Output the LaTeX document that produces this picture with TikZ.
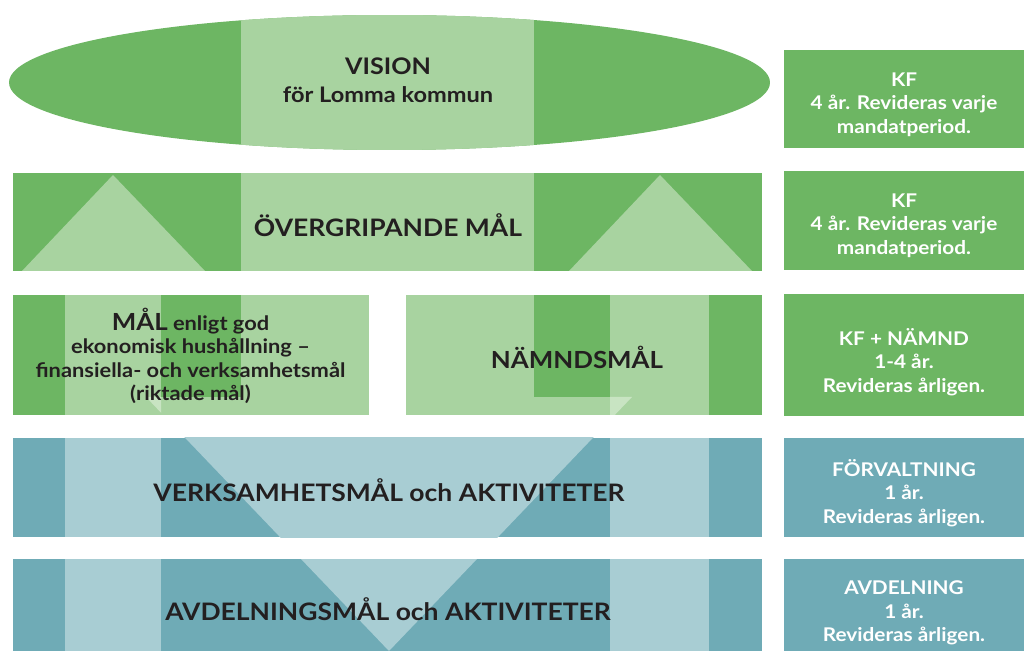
\documentclass[tikz,border=0pt]{standalone}
\usepackage{fontspec}
\setmainfont{Lato}[FakeStretch=1.1]
\usetikzlibrary{positioning}
\definecolor{leaf}{HTML}{6DB663}
\definecolor{leaflight}{HTML}{A8D3A0}
\definecolor{leafpale}{HTML}{C8E4C2}
\definecolor{sea}{HTML}{6FABB6}
\definecolor{sealight}{HTML}{A8CDD3}
\definecolor{ink}{HTML}{231F20}

\begin{document}
\begin{tikzpicture}[x=0.02cm, y=-0.02cm,
  every node/.style={inner sep=0pt, align=center},
  rowlabel/.style={text=ink, font=\bfseries\fontsize{13.7}{16}\selectfont},
  smalllabel/.style={text=ink, font=\bfseries\fontsize{11.3}{13.4}\selectfont},
  sidebox/.style={rectangle, fill=#1, minimum width=4.8cm},
  sidetext/.style={text=white, font=\bfseries\fontsize{10.75}{13.3}\selectfont}]

\useasboundingbox (0,0) rectangle (1024,651);

% Funnel running down through the lower bands
\coordinate (funnelL) at (146,397);
\coordinate (funnelR) at (632,397);
\coordinate (funnelTip) at (389,651);

% Vision ellipse
\begin{scope}
  \clip (389.5,82.5) ellipse [x radius=380.5, y radius=67.5];
  \fill[leaf] (9,15) rectangle (770,150);
  \fill[leaflight] (241,15) rectangle (534,150);
\end{scope}
\node[rowlabel, font=\bfseries\fontsize{13}{16}\selectfont] (vision) at (388,66) {VISION};
\node[smalllabel, font=\bfseries\fontsize{12.2}{14}\selectfont] (lomma) at (388,95) {för Lomma kommun};

% Overall goals band
\fill[leaf] (13,173) rectangle (762,271);
\fill[leaflight] (241,173) rectangle (534,271);
\fill[leaflight] (113,175) -- (205,271) -- (22,271) -- cycle;
\fill[leaflight] (660,175) -- (752,271) -- (569,271) -- cycle;
\node[rowlabel] (overgripande) at (388,225.5) {ÖVERGRIPANDE MÅL};

% Economy goals box
\fill[leaflight] (13,295) rectangle (369,415);
\fill[leaf] (13,295) rectangle (65,415);
\fill[leaf] (161,295) rectangle (241,397);
\begin{scope}
  \clip (65,295) rectangle (161,415);
  \fill[leafpale] (funnelL) -- (funnelR) -- (funnelTip) -- cycle;
\end{scope}
\node[smalllabel] (ekonomi) at (190.5,356) {{\fontsize{13.4}{16}\selectfont MÅL} enligt god\\ekonomisk hushållning –\\finansiella- och verksamhetsmål\\(riktade mål)};

% Board goals box
\fill[leaflight] (406,295) rectangle (762,415);
\fill[leaf] (534,295) rectangle (610,397);
\fill[leaf] (709,295) rectangle (762,415);
\begin{scope}
  \clip (610,295) rectangle (709,415);
  \fill[leafpale] (funnelL) -- (funnelR) -- (funnelTip) -- cycle;
\end{scope}
\node[rowlabel, font=\bfseries\fontsize{13.4}{16}\selectfont] (namnd) at (577,357) {NÄMNDSMÅL};

% Administration band
\fill[sea] (13,438) rectangle (762,537);
\fill[sealight] (65,438) rectangle (161,537);
\fill[sealight] (610,438) rectangle (709,537);
\begin{scope}
  \clip (13,438) rectangle (762,537);
  \fill[sealight] (funnelL) -- (funnelR) -- (funnelTip) -- cycle;
\end{scope}
\node[rowlabel] (verksamhet) at (389,490.5) {VERKSAMHETSMÅL och AKTIVITETER};

% Department band
\fill[sea] (13,559) rectangle (762,651);
\fill[sealight] (65,559) rectangle (161,651);
\fill[sealight] (610,559) rectangle (709,651);
\begin{scope}
  \clip (13,559) rectangle (762,651);
  \fill[sealight] (funnelL) -- (funnelR) -- (funnelTip) -- cycle;
\end{scope}
\node[rowlabel] (avdelning) at (388,609.5) {AVDELNINGSMÅL och AKTIVITETER};

% Who decides and how often
\node[sidebox=leaf, minimum height=1.96cm] (kf1) at (904,99) {};
\node[sidebox=leaf, minimum height=1.98cm] (kf2) at (904,220.5) {};
\node[sidebox=leaf, minimum height=2.44cm] (kfnamnd) at (904,355) {};
\node[sidebox=sea, minimum height=1.98cm] (forvaltning) at (904,487.5) {};
\node[sidebox=sea, minimum height=1.84cm] (avd) at (904,605) {};

\node[sidetext] (kf1text) at ([yshift=-3.1pt]kf1.center) {KF\\4 år. Revideras varje\\mandatperiod.};
\node[sidetext] (kf2text) at ([yshift=-2.8pt]kf2.center) {KF\\4 år. Revideras varje\\mandatperiod.};
\node[sidetext] (kfnamndtext) at ([yshift=-4pt]kfnamnd.center) {KF + NÄMND\\1-4 år.\\Revideras årligen.};
\node[sidetext] (forvaltningtext) at ([yshift=-3.1pt]forvaltning.center) {FÖRVALTNING\\1 år.\\Revideras årligen.};
\node[sidetext] (avdtext) at ([yshift=-4.5pt]avd.center) {AVDELNING\\1 år.\\Revideras årligen.};

\end{tikzpicture}
\end{document}
